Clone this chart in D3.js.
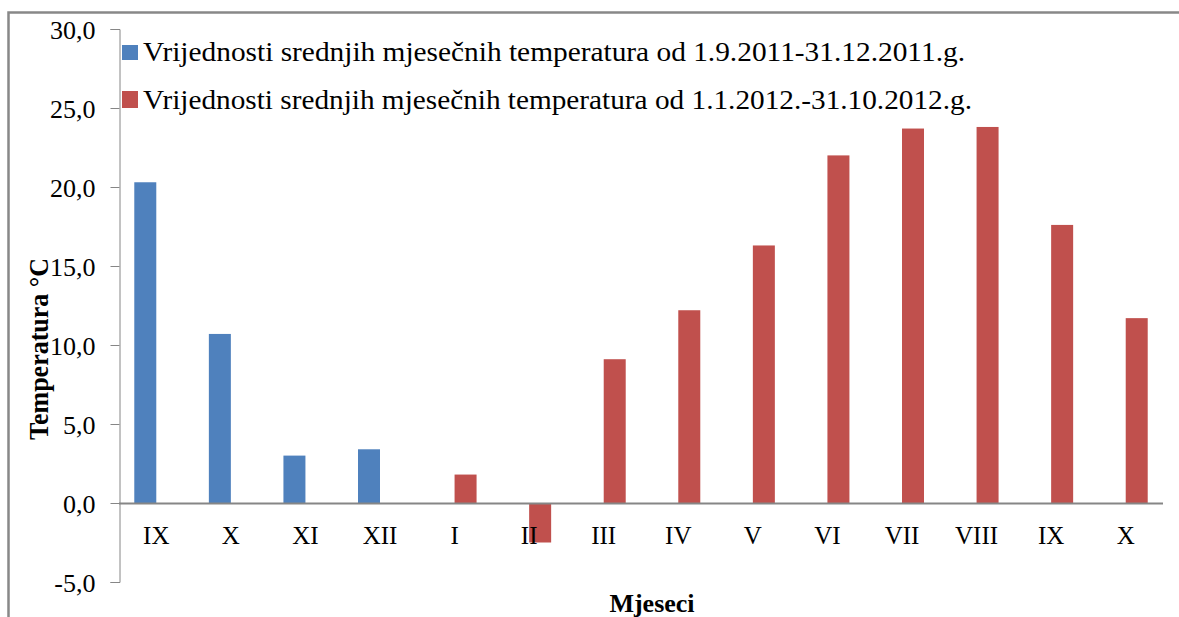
<!DOCTYPE html>
<html lang="en">

<head>
    <meta charset="UTF-8">
    <title>Temperatura</title>
    <style>
        body { margin: 0; background: #fff; }
        svg { display: block; }
        text { font-family: "Liberation Serif", "Times New Roman", serif; }
    </style>
</head>

<body>
    <script src="https://cdn.jsdelivr.net/npm/d3@7"></script>
    <script>
        // mjeseci (x os)
        const months = ['IX', 'X', 'XI', 'XII', 'I', 'II', 'III', 'IV', 'V', 'VI', 'VII', 'VIII', 'IX', 'X'];
        // 1.9.2011 - 31.12.2011 (plava)
        const temps2011 = [20.3, 10.7, 3.0, 3.4, null, null, null, null, null, null, null, null, null, null];
        // 1.1.2012 - 31.10.2012 (crvena)
        const temps2012 = [null, null, null, null, 1.8, -2.5, 9.1, 12.2, 16.3, 22.0, 23.7, 23.8, 17.6, 11.7];
        const yTicks = [-5, 0, 5, 10, 15, 20, 25, 30];
        const seriesNames = [
            'Vrijednosti srednjih mjesečnih temperatura od 1.9.2011-31.12.2011.g.',
            'Vrijednosti srednjih mjesečnih temperatura od 1.1.2012.-31.10.2012.g.'
        ];
        const colors = ['#4F81BD', '#C0504D'];

        const w = 1179;
        const h = 617;
        const svg = d3.select('body')
            .append('svg')
            .attr('width', w)
            .attr('height', h);

        // okvir (lijevo i gore)
        svg.append('path')
            .attr('d', `M8.5,${h} V12.5 H${w}`)
            .attr('fill', 'none')
            .attr('stroke', '#888')
            .attr('stroke-width', 2.5);

        const x = d3.scaleBand()
            .domain(d3.range(months.length))
            .range([119, 1163]);

        const y = d3.scaleLinear()
            .domain([-5, 30])
            .range([582, 29]);

        const barW = 22;

        // y os (zarez umjesto točke, obični minus)
        const yAxis = d3.axisLeft(y)
            .tickValues(yTicks)
            .tickSize(9)
            .tickFormat(d => d.toFixed(1).replace('.', ','));
        const gy = svg.append('g')
            .attr('transform', 'translate(119.5,0)')
            .call(yAxis);
        gy.select('.domain').attr('stroke', '#868686');
        gy.selectAll('.tick line').attr('stroke', '#868686');
        gy.selectAll('.tick text')
            .attr('x', -24)
            .attr('dy', '0.36em')
            .style('font-size', '26px')
            .style('font-family', '"Liberation Serif", serif')
            .attr('fill', '#000');

        // stupci
        const series = [temps2011, temps2012];
        series.forEach((vals, si) => {
            svg.append('g')
                .selectAll('rect')
                .data(vals.map((v, i) => ({ v, i })).filter(d => d.v !== null))
                .enter()
                .append('rect')
                .attr('x', d => x(d.i) + x.bandwidth() / 2 + (si === 0 ? -barW : 0))
                .attr('y', d => y(Math.max(0, d.v)))
                .attr('width', barW)
                .attr('height', d => Math.abs(y(d.v) - y(0)))
                .attr('fill', colors[si]);
        });

        // x os (linija na nuli)
        svg.append('line')
            .attr('x1', 119)
            .attr('x2', 1163)
            .attr('y1', y(0) + 0.5)
            .attr('y2', y(0) + 0.5)
            .attr('stroke', '#868686')
            .attr('stroke-width', 2);

        svg.append('g')
            .selectAll('text')
            .data(months)
            .enter()
            .append('text')
            .text(d => d)
            .attr('x', (d, i) => x(i) + x.bandwidth() / 2)
            .attr('y', 544)
            .attr('text-anchor', 'middle')
            .style('font-size', '25px')
            .attr('fill', '#000');

        // legenda
        const legend = svg.append('g');
        seriesNames.forEach((name, i) => {
            legend.append('rect')
                .attr('x', 122)
                .attr('y', i === 0 ? 45 : 91)
                .attr('width', 16)
                .attr('height', i === 0 ? 15 : 17)
                .attr('fill', colors[i]);
            legend.append('text')
                .text(name)
                .attr('x', 143)
                .attr('y', i === 0 ? 61 : 109)
                .style('font-size', '28px')
                .attr('textLength', i === 0 ? 822 : 829)
                .attr('lengthAdjust', 'spacingAndGlyphs')
                .attr('fill', '#000');
        });

        // naslovi osi
        svg.append('text')
            .text('Temperatura °C')
            .attr('transform', 'translate(48,349) rotate(-90)')
            .attr('text-anchor', 'middle')
            .style('font-size', '27px')
            .attr('font-weight', 'bold')
            .attr('textLength', 182)
            .attr('lengthAdjust', 'spacingAndGlyphs')
            .attr('fill', '#000');

        svg.append('text')
            .text('Mjeseci')
            .attr('x', 652)
            .attr('y', 612)
            .attr('text-anchor', 'middle')
            .style('font-size', '26px')
            .attr('font-weight', 'bold')
            .attr('fill', '#000');
    </script>
</body>

</html>
